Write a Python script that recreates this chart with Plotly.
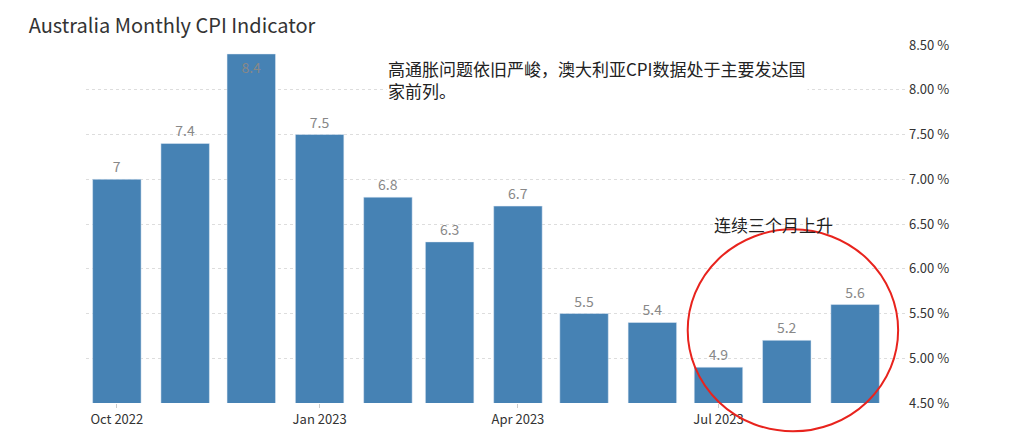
import plotly.graph_objects as go

months = ["2022-10-01","2022-11-01","2022-12-01","2023-01-01","2023-02-01","2023-03-01",
          "2023-04-01","2023-05-01","2023-06-01","2023-07-01","2023-08-01","2023-09-01"]
cpi = [7, 7.4, 8.4, 7.5, 6.8, 6.3, 6.7, 5.5, 5.4, 4.9, 5.2, 5.6]
tick_vals = ["2022-10-01","2023-01-01","2023-04-01","2023-07-01"]
tick_text = ["Oct 2022","Jan 2023","Apr 2023","Jul 2023"]
y_ticks = [4.5,5.0,5.5,6.0,6.5,7.0,7.5,8.0,8.5]

positions = ["inside" if v > 8.2 else "outside" for v in cpi]
fig = go.Figure(go.Bar(
    x=months, y=cpi, marker_color="#4682b4", width=1000*3600*24*22,
    text=[f"{v:g}" for v in cpi], textposition=positions, insidetextanchor="end",
    textfont=dict(color="#888888", size=14), cliponaxis=False,
))
fig.update_layout(
    width=1033, height=435, plot_bgcolor="white", paper_bgcolor="white",
    margin=dict(l=78, r=133, t=37, b=40), showlegend=False,
    font=dict(family="Noto Sans CJK SC, Open Sans, sans-serif"),
    title=dict(text="Australia Monthly CPI Indicator", x=0.02, xanchor="left", y=0.975,
               font=dict(size=20, color="#333333")),
    xaxis=dict(tickvals=tick_vals, ticktext=tick_text, showgrid=False,
               range=["2022-09-17","2023-09-25"], tickfont=dict(size=13, color="#333"),
               ticks="outside", tickcolor="#ccc", ticklen=4),
    yaxis=dict(side="right", range=[4.5, 8.5], tickvals=y_ticks,
               ticktext=[f"{v:.2f} %" for v in y_ticks], tickfont=dict(size=13, color="#333"),
               gridcolor="#dddddd", griddash="dot", zeroline=False),
)
fig.add_annotation(xref="paper", yref="paper", x=0.365, y=0.975, xanchor="left", yanchor="top",
                   align="left", showarrow=False, bgcolor="white",
                   text="高通胀问题依旧严峻，澳大利亚CPI数据处于主要发达国<br>家前列。",
                   font=dict(size=17, color="#222"))
fig.add_annotation(xref="paper", yref="paper", x=0.762, y=0.5, xanchor="left", yanchor="middle",
                   showarrow=False, text="连续三个月上升", font=dict(size=17, color="#222"))
fig.add_shape(type="circle", xref="paper", yref="paper", x0=0.732, x1=0.988, y0=-0.079, y1=0.485,
              line=dict(color="#e8231d", width=2))
fig.write_html("out.html")
